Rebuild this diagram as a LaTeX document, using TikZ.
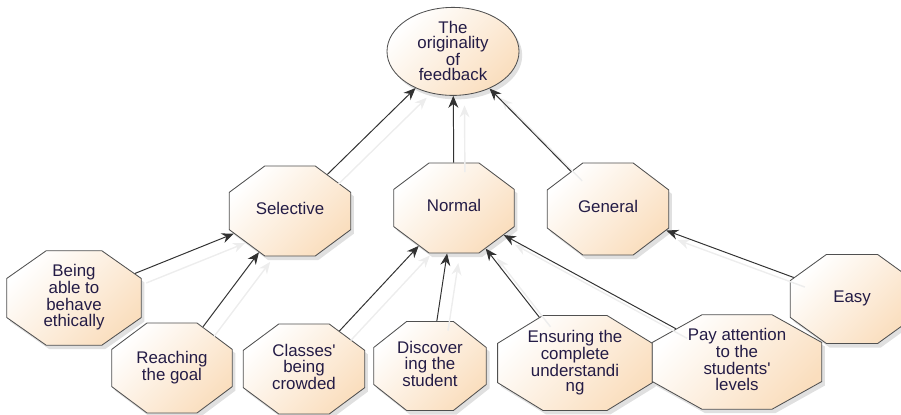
\documentclass[tikz,border=0pt]{standalone}
\usepackage{fontspec}
\setmainfont{Liberation Sans}
\usetikzlibrary{shapes.geometric,arrows.meta,shadows}
\definecolor{peach}{RGB}{250,222,190}
\definecolor{rim}{RGB}{80,80,80}
\definecolor{ink}{RGB}{36,28,70}
\definecolor{wire}{RGB}{50,50,50}
\newcommand{\squash}[2]{\pgfmathparse{#1}\raisebox{-1.6pt}{\scalebox{\pgfmathresult}[1]{\begin{tabular}{@{}c@{}}#2\end{tabular}}}}
\begin{document}
\begin{tikzpicture}[
	every node/.style={font=\fontsize{12}{10.6}\selectfont, text=ink, align=center, inner sep=0pt},
	bubble/.style={draw=rim, line width=0.6pt, top color=white, bottom color=peach, shading angle=45,
		drop shadow={shadow xshift=0.08cm, shadow yshift=-0.1cm, opacity=0.12, fill=black}},
	octa/.style n args={3}{bubble, regular polygon, regular polygon sides=8,
		minimum size=1.06*#2, xscale=#1/#2, node contents={\squash{#2/#1}{#3}}},
	goal/.style={bubble, ellipse, minimum width=3.3cm, minimum height=2.2cm},
	link/.style={draw=wire, line width=0.7pt, -{Stealth[length=3mm,width=2.5mm]},
		preaction={draw=black!7, line width=1pt, transform canvas={shift={(0.28cm,-0.24cm)}}}}
]
	\useasboundingbox (0,0) rectangle (22.525,10.375);
	\node[goal] (top) at (11.325,9.09) {The\\originality\\of\\feedback};

	\node (sel) at (7.25,5.1) [octa={3.1cm}{2.3cm}{Selective}];
	\node (norm) at (11.35,5.175) [octa={3.075cm}{2.3cm}{Normal}];
	\node (gen) at (15.2,5.15) [octa={3.1cm}{2.35cm}{General}];

	\node (being) at (1.85,2.925) [octa={3.275cm}{2.3cm}{Being\\able to\\behave\\ethically}];
	\node (reach) at (4.3,1.175) [octa={3.075cm}{2.3cm}{Reaching\\the goal}];
	\node (crowd) at (7.6,1.15) [octa={3.1cm}{2.3cm}{Classes\textquotesingle\\being\\crowded}];
	\node (disc) at (10.75,1.225) [octa={2.875cm}{2.275cm}{Discover\\ing the\\student}];
	\node (ens) at (14.375,1.3) [octa={3.95cm}{2.425cm}{Ensuring the\\complete\\understandi\\ng}];
	\node (pay) at (18.425,1.325) [octa={4.125cm}{2.3cm}{Pay attention\\to the\\students\textquotesingle\\levels}];
	\node (easy) at (21.3,2.9) [octa={3.15cm}{2.275cm}{Easy}];

	\draw[link] (sel) -- (top);
	\draw[link] (norm) -- (top);
	\draw[link] (gen) -- (top);
	\draw[link] (being) -- (sel);
	\draw[link] (reach) -- (sel);
	\draw[link] (crowd) -- (norm);
	\draw[link] (disc) -- (norm);
	\draw[link] (ens) -- (norm);
	\draw[link] (pay) -- (norm);
	\draw[link] (easy) -- (gen);
\end{tikzpicture}
\end{document}
